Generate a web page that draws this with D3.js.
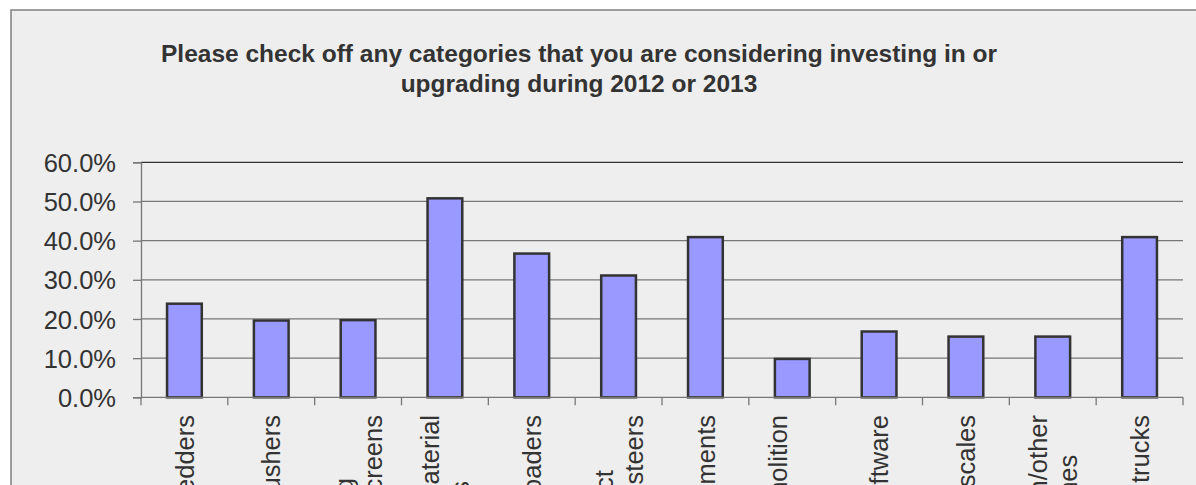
<!DOCTYPE html>
<html>
<head>
<meta charset="utf-8">
<script src="https://cdn.jsdelivr.net/npm/d3@7"></script>
<style>
  html, body { margin: 0; padding: 0; background: #ffffff; overflow: hidden; }
  svg { display: block; }
  text { font-family: "Liberation Sans", Arial, sans-serif; }
</style>
</head>
<body>
<svg id="chart" width="1196" height="485"></svg>
<script>
// ---- data ----
const titleLines = [
  "Please check off any categories that you are considering investing in or",
  "upgrading during 2012 or 2013"
];
const categories = [
  "Shredders",
  "Crushers",
  "Screening\ntrommel/disc screens",
  "Cranes and material\nhandlers",
  "Wheel loaders",
  "Compact\nloaders/skid steers",
  "Attachments",
  "Excavators/demolition\ntools",
  "Software",
  "Truck scales",
  "Separation/other\nmachines",
  "Roll-off trucks"
];
const values = [23.9, 19.6, 19.7, 50.8, 36.7, 31.1, 40.9, 9.8, 16.8, 15.5, 15.5, 40.9];
const yTicks = [0, 10, 20, 30, 40, 50, 60];

// ---- layout ----
const svg = d3.select("#chart");
const plot = { left: 141, right: 1183, top: 162.3, bottom: 397.3 };

// chart area background + border (extends past right/bottom edge)
svg.append("rect")
  .attr("x", 11).attr("y", 10)
  .attr("width", 1400).attr("height", 700)
  .attr("fill", "#eeeeee")
  .attr("stroke", "#808080")
  .attr("stroke-width", 1.5);

// title
const title = svg.append("text")
  .attr("x", 579).attr("y", 62.3)
  .attr("text-anchor", "middle")
  .attr("font-size", "24.5px")
  .attr("font-weight", "bold")
  .attr("fill", "#333333");
titleLines.forEach((t, i) => {
  title.append("tspan").attr("x", 579).attr("dy", i === 0 ? 0 : 29.4).text(t);
});

// scales
const x = d3.scaleBand()
  .domain(d3.range(categories.length))
  .range([plot.left, plot.right])
  .paddingInner(0.6)
  .paddingOuter(0.3);
const y = d3.scaleLinear().domain([0, 60]).range([plot.bottom, plot.top]);

// gridlines
svg.append("g").selectAll("line")
  .data(yTicks.filter(d => d > 0))
  .join("line")
  .attr("x1", plot.left).attr("x2", plot.right)
  .attr("y1", d => y(d)).attr("y2", d => y(d))
  .attr("stroke", d => d === 60 ? "#333333" : "#777777")
  .attr("stroke-width", 1.3);

// y axis
const yAxis = svg.append("g")
  .attr("transform", `translate(${plot.left},0)`)
  .call(d3.axisLeft(y).tickValues(yTicks).tickSize(8).tickPadding(17)
    .tickFormat(d => d3.format(".1f")(d) + "%"));
yAxis.select(".domain").attr("stroke", "#777777").attr("stroke-width", 1.3);
yAxis.selectAll(".tick line").attr("stroke", "#777777").attr("stroke-width", 1.3);
yAxis.selectAll(".tick text")
  .attr("font-size", "25.5px")
  .attr("font-family", "Liberation Sans, Arial, sans-serif")
  .attr("fill", "#333333")
  .attr("dy", "0.36em");

// bars
svg.append("g").selectAll("rect")
  .data(values)
  .join("rect")
  .attr("x", (d, i) => x(i))
  .attr("width", x.bandwidth())
  .attr("y", d => y(d))
  .attr("height", d => y(0) - y(d))
  .attr("fill", "#9999ff")
  .attr("stroke", "#333333")
  .attr("stroke-width", 2.5);

// x axis line and ticks at category boundaries
const step = x.step();
svg.append("line")
  .attr("x1", plot.left).attr("x2", plot.right)
  .attr("y1", plot.bottom).attr("y2", plot.bottom)
  .attr("stroke", "#777777").attr("stroke-width", 1.3);
svg.append("g").selectAll("line")
  .data(d3.range(categories.length + 1))
  .join("line")
  .attr("x1", i => plot.left + i * step)
  .attr("x2", i => plot.left + i * step)
  .attr("y1", plot.bottom).attr("y2", plot.bottom + 8)
  .attr("stroke", "#777777").attr("stroke-width", 1.3);

// x labels: rotated -90, lines centre-aligned, longest line ends at 415
const lineH = 29.5;
const labels = svg.append("g");
categories.forEach((c, i) => {
  const lines = c.split("\n");
  const cx = x(i) + x.bandwidth() / 2;
  const g = labels.append("g")
    .attr("transform", `translate(${cx},415) rotate(-90)`);
  const texts = lines.map((l, j) => g.append("text")
    .attr("font-size", "25.5px")
    .attr("fill", "#333333")
    .attr("text-anchor", "middle")
    .attr("y", (j - (lines.length - 1) / 2) * lineH)
    .attr("dy", "0.36em")
    .text(l));
  const L = d3.max(texts, t => t.node().getComputedTextLength());
  texts.forEach(t => t.attr("x", -L / 2));
});
</script>
</body>
</html>
